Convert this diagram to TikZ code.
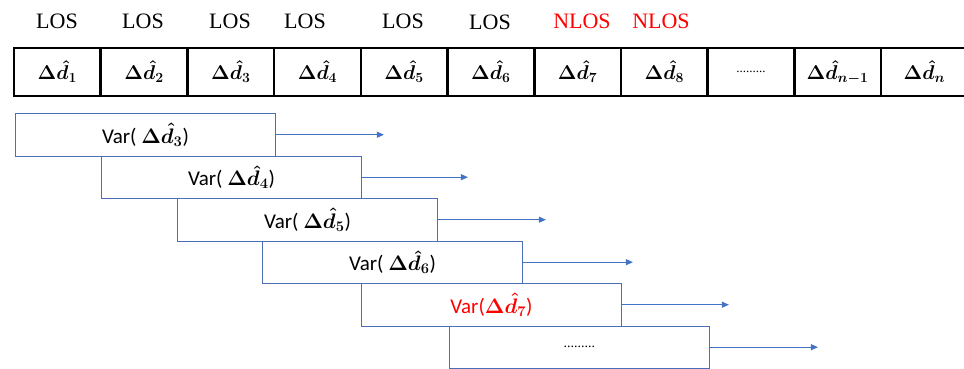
\RequirePackage{fix-cm}
\documentclass[tikz,border=0pt]{standalone}
\usepackage{fontspec}
\setmainfont{Liberation Serif}
\newfontfamily\timesf{Liberation Serif}
\newfontfamily\calib{Carlito}
\usetikzlibrary{arrows.meta}
\definecolor{boxblue}{HTML}{4A6EB8}
\definecolor{arrblue}{HTML}{4472C4}
\definecolor{nred}{HTML}{FF0000}
\newcommand{\dd}[1]{{\boldmath$\Delta\hat{d}_{#1}$}}
\tikzset{
  lbl/.style={font=\timesf\fontsize{22}{24}\selectfont, inner sep=0pt},
  cell/.style={draw=black, line width=2.6pt, minimum width=86.7pt, minimum height=48pt, inner sep=0pt, font=\fontsize{20}{22}\selectfont},
  varbox/.style={draw=boxblue, line width=0.9pt, minimum width=260pt, minimum height=42.5pt, inner sep=0pt, anchor=north west, font=\calib\fontsize{21}{23}\selectfont},
  arr/.style={draw=arrblue, line width=0.9pt, -{Triangle[length=7pt,width=6pt]}}
}
\begin{document}
\begin{tikzpicture}[x=1pt,y=-1pt]
\useasboundingbox (0,0) rectangle (964,369);
\clip (0,0) rectangle (964,369);
% labels
\node[lbl] (l1) at (57,21) {LOS};
\node[lbl] (l2) at (143,21) {LOS};
\node[lbl] (l3) at (230,21) {LOS};
\node[lbl] (l4) at (305,21) {LOS};
\node[lbl] (l5) at (403,21) {LOS};
\node[lbl] (l6) at (490,22) {LOS};
\node[lbl, text=nred] (l7) at (582,21) {NLOS};
\node[lbl, text=nred] (l8) at (661,21) {NLOS};
% cells
\node[cell] (c1) at (57.35,72) {\dd{1}};
\node[cell] (c2) at (144.05,72) {\dd{2}};
\node[cell] (c3) at (230.75,72) {\dd{3}};
\node[cell] (c4) at (317.45,72) {\dd{4}};
\node[cell] (c5) at (404.15,72) {\dd{5}};
\node[cell] (c6) at (490.85,72) {\dd{6}};
\node[cell] (c7) at (577.55,72) {\dd{7}};
\node[cell] (c8) at (664.25,72) {\dd{8}};
\node[cell] (c9) at (750.95,72) {\fontsize{13}{14}\selectfont .........};
\node[cell] (c10) at (837.65,72) {\dd{n-1}};
\node[cell] (c11) at (924.35,72) {\dd{n}};
% variance boxes
\node[varbox] (v1) at (15,113) {Var( \dd{3})};
\node[varbox] (v2) at (101,155.5) {Var( \dd{4})};
\node[varbox] (v3) at (177,198) {Var( \dd{5})};
\node[varbox] (v4) at (262,240.5) {Var( \dd{6})};
\node[varbox, text=nred] (v5) at (361,283) {Var(\dd{7})};
\node[varbox] (v6) at (449,325.5) {\timesf\fontsize{14}{15}\selectfont .........};
% arrow ends
\coordinate (e1) at ([xshift=108pt]v1.east);
\coordinate (e2) at ([xshift=106pt]v2.east);
\coordinate (e3) at ([xshift=108pt]v3.east);
\coordinate (e4) at ([xshift=110pt]v4.east);
\coordinate (e5) at ([xshift=107pt]v5.east);
\coordinate (e6) at ([xshift=108pt]v6.east);
\draw[arr] (v1.east) -- (e1);
\draw[arr] (v2.east) -- (e2);
\draw[arr] (v3.east) -- (e3);
\draw[arr] (v4.east) -- (e4);
\draw[arr] (v5.east) -- (e5);
\draw[arr] (v6.east) -- (e6);
\end{tikzpicture}
\end{document}
